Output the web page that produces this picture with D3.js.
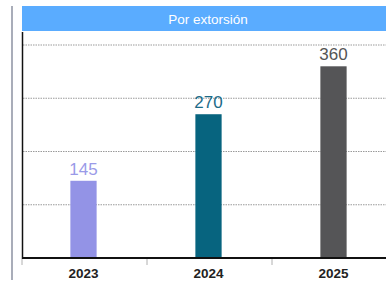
<!DOCTYPE html>
<html><head><meta charset="utf-8">
<script src="https://cdn.jsdelivr.net/npm/d3@7"></script>
<style>html,body{margin:0;padding:0;background:#fff;overflow:hidden}</style>
</head><body>
<script>
const title = "Por extorsión";
const categories = ["2023", "2024", "2025"];
const values = [145, 270, 360];
const barColors = ["#9393e6", "#07647f", "#555557"];
const labelColors = ["#9a9ae8", "#1b6b88", "#555555"];
const yTicks = [100, 200, 300, 400];

const W = 386, H = 282;
const svg = d3.select("body").append("svg").attr("width", W).attr("height", H);

// left decorative line
svg.append("rect").attr("x", 11).attr("y", 6).attr("width", 2).attr("height", 274).attr("fill", "#a9adb9");

// title bar
svg.append("rect").attr("x", 22).attr("y", 6).attr("width", W - 22).attr("height", 25).attr("fill", "#5aacff");
svg.append("text").attr("x", 208).attr("y", 23.5).attr("text-anchor", "middle")
  .attr("font-family", "Liberation Sans, Arial, sans-serif").attr("font-size", 13.5)
  .attr("fill", "#fff").text(title);

const x = d3.scaleBand().domain(categories).range([21, 396]).paddingInner(0.79).paddingOuter(0.395);
const y = d3.scaleLinear().domain([0, 400]).range([258, 45]);

// gridlines
svg.append("g").selectAll("line").data(yTicks).join("line")
  .attr("x1", 23).attr("x2", W).attr("y1", d => y(d)).attr("y2", d => y(d))
  .attr("stroke", "#9a9a9a").attr("stroke-width", 1).attr("stroke-dasharray", "1.5,1");

// bars
svg.append("g").selectAll("rect").data(values).join("rect")
  .attr("x", (d, i) => x(categories[i])).attr("width", x.bandwidth())
  .attr("y", d => y(d)).attr("height", d => y(0) - y(d))
  .attr("fill", (d, i) => barColors[i]);

// value labels
svg.append("g").selectAll("text").data(values).join("text")
  .attr("x", (d, i) => x(categories[i]) + x.bandwidth() / 2)
  .attr("y", d => y(d) - 6).attr("text-anchor", "middle")
  .attr("font-family", "Liberation Sans, Arial, sans-serif").attr("font-size", 17)
  .attr("fill", (d, i) => labelColors[i]).text(d => d);

// y axis line
svg.append("line").attr("x1", 22.5).attr("x2", 22.5).attr("y1", 32).attr("y2", 259)
  .attr("stroke", "#111").attr("stroke-width", 1.5);

// x axis with ticks at band boundaries
const bounds = [21, ...categories.map(c => x(c) + x.bandwidth() / 2 + x.step() / 2)];
svg.append("g").selectAll("line").data(bounds).join("line")
  .attr("x1", d => d + 1).attr("x2", d => d + 1).attr("y1", 259).attr("y2", 265)
  .attr("stroke", "#b0b0b0").attr("stroke-width", 1);
svg.append("line").attr("x1", 22).attr("x2", W).attr("y1", 258).attr("y2", 258)
  .attr("stroke", "#111").attr("stroke-width", 2);

svg.append("g").selectAll("text").data(categories).join("text")
  .attr("x", d => x(d) + x.bandwidth() / 2).attr("y", 278).attr("text-anchor", "middle")
  .attr("font-family", "Liberation Sans, Arial, sans-serif").attr("font-size", 13.5)
  .attr("font-weight", "bold").attr("fill", "#222").text(d => d);
</script>
</body></html>
